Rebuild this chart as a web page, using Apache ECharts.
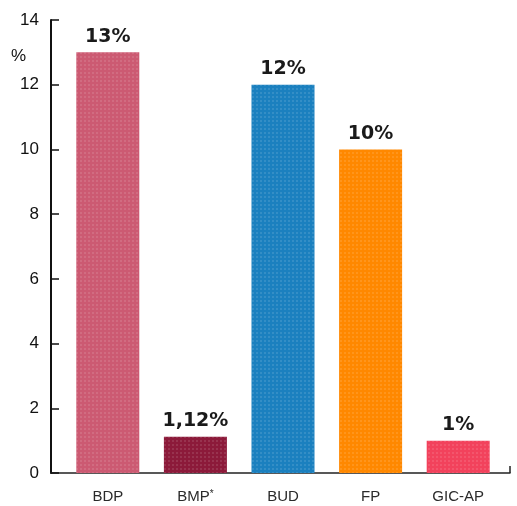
<!DOCTYPE html>
<html>
<head>
<meta charset="utf-8">
<script src="https://cdn.jsdelivr.net/npm/echarts@6/dist/echarts.min.js"></script>
<style>
  html, body { margin: 0; padding: 0; background: #fff; }
  #chart { width: 517px; height: 506px; }
</style>
</head>
<body>
<div id="chart"></div>
<script>
// Bank names and their share values (%)
const categories = ['BDP', 'BMP*', 'BUD', 'FP', 'GIC-AP'];
const values = [13, 1.12, 12, 10, 1];
const valueLabels = ['13%', '1,12%', '12%', '10%', '1%'];
const barColors = ['#cc5a72', '#8c1a3a', '#1b80bf', '#ff8800', '#f2425c'];
const yTicks = [0, 2, 4, 6, 8, 10, 12, 14];

const chart = echarts.init(document.getElementById('chart'));

const yRange = { min: yTicks[0], max: yTicks[yTicks.length - 1], interval: 2 };

// faint woven texture on the bars
const texture = {
  symbol: 'rect',
  symbolSize: 1,
  dashArrayX: [[2, 2]],
  dashArrayY: [2, 2],
  rotation: 0,
  color: 'rgba(255,255,255,0.11)'
};

const option = {
  animation: false,
  grid: [
    // frame: value axis and baseline
    { left: 51, right: 7, top: 20, bottom: 33 },
    // bars sit in a slightly inset band
    { left: 64, right: 15, top: 20, bottom: 33 }
  ],
  xAxis: [
    {
      gridIndex: 0,
      type: 'category',
      data: categories,
      axisLine: { lineStyle: { color: '#222', width: 1.5 } },
      axisTick: { show: false },
      axisLabel: { show: false }
    },
    {
      gridIndex: 1,
      type: 'category',
      data: categories,
      axisLine: { show: false },
      axisTick: { show: false },
      axisLabel: {
        interval: 0,
        margin: 16,
        fontFamily: 'Liberation Sans',
        fontSize: 15,
        color: '#2a2a2a',
        formatter: v => v.endsWith('*') ? v.slice(0, -1) + '{sup|*}' : v,
        rich: { sup: { fontSize: 10, verticalAlign: 'top', padding: [0, 0, 6, 0], color: '#2a2a2a' } }
      }
    }
  ],
  yAxis: [
    {
      gridIndex: 0,
      type: 'value',
      ...yRange,
      splitLine: { show: false },
      axisLine: { show: true, lineStyle: { color: '#111', width: 2 } },
      axisTick: { show: true, inside: true, length: 8, lineStyle: { color: '#111', width: 1.5 } },
      axisLabel: {
        margin: 12,
        fontFamily: 'Liberation Sans',
        fontSize: 17,
        color: '#111'
      }
    },
    {
      gridIndex: 1,
      type: 'value',
      ...yRange,
      show: false,
      splitLine: { show: false }
    }
  ],
  series: [{
    type: 'bar',
    xAxisIndex: 1,
    yAxisIndex: 1,
    barWidth: 63,
    data: values.map((v, i) => ({ value: v, itemStyle: { color: barColors[i], decal: texture } })),
    label: {
      show: true,
      position: 'top',
      distance: 6,
      fontFamily: 'DejaVu Sans',
      fontWeight: 'bold',
      fontSize: 19,
      color: '#1a1a1a',
      formatter: p => valueLabels[p.dataIndex]
    }
  }]
};

chart.setOption(option);

// "%" unit caption and the closing tick at the right end of the baseline
const origin = chart.convertToPixel({ gridIndex: 0 }, [0, 0]);
const frame = chart.getModel().getComponent('grid', 0).coordinateSystem.getRect();
const unitPos = chart.convertToPixel({ yAxisIndex: 0 }, 13);
chart.setOption({
  graphic: [
    {
      type: 'text',
      left: 11,
      top: unitPos - 5,
      style: { text: '%', fontFamily: 'Liberation Sans', fontSize: 17, fill: '#111' }
    },
    {
      type: 'line',
      shape: { x1: frame.x + frame.width, y1: origin[1], x2: frame.x + frame.width, y2: origin[1] - 7 },
      style: { stroke: '#222', lineWidth: 1.5 }
    }
  ]
});
</script>
</body>
</html>
